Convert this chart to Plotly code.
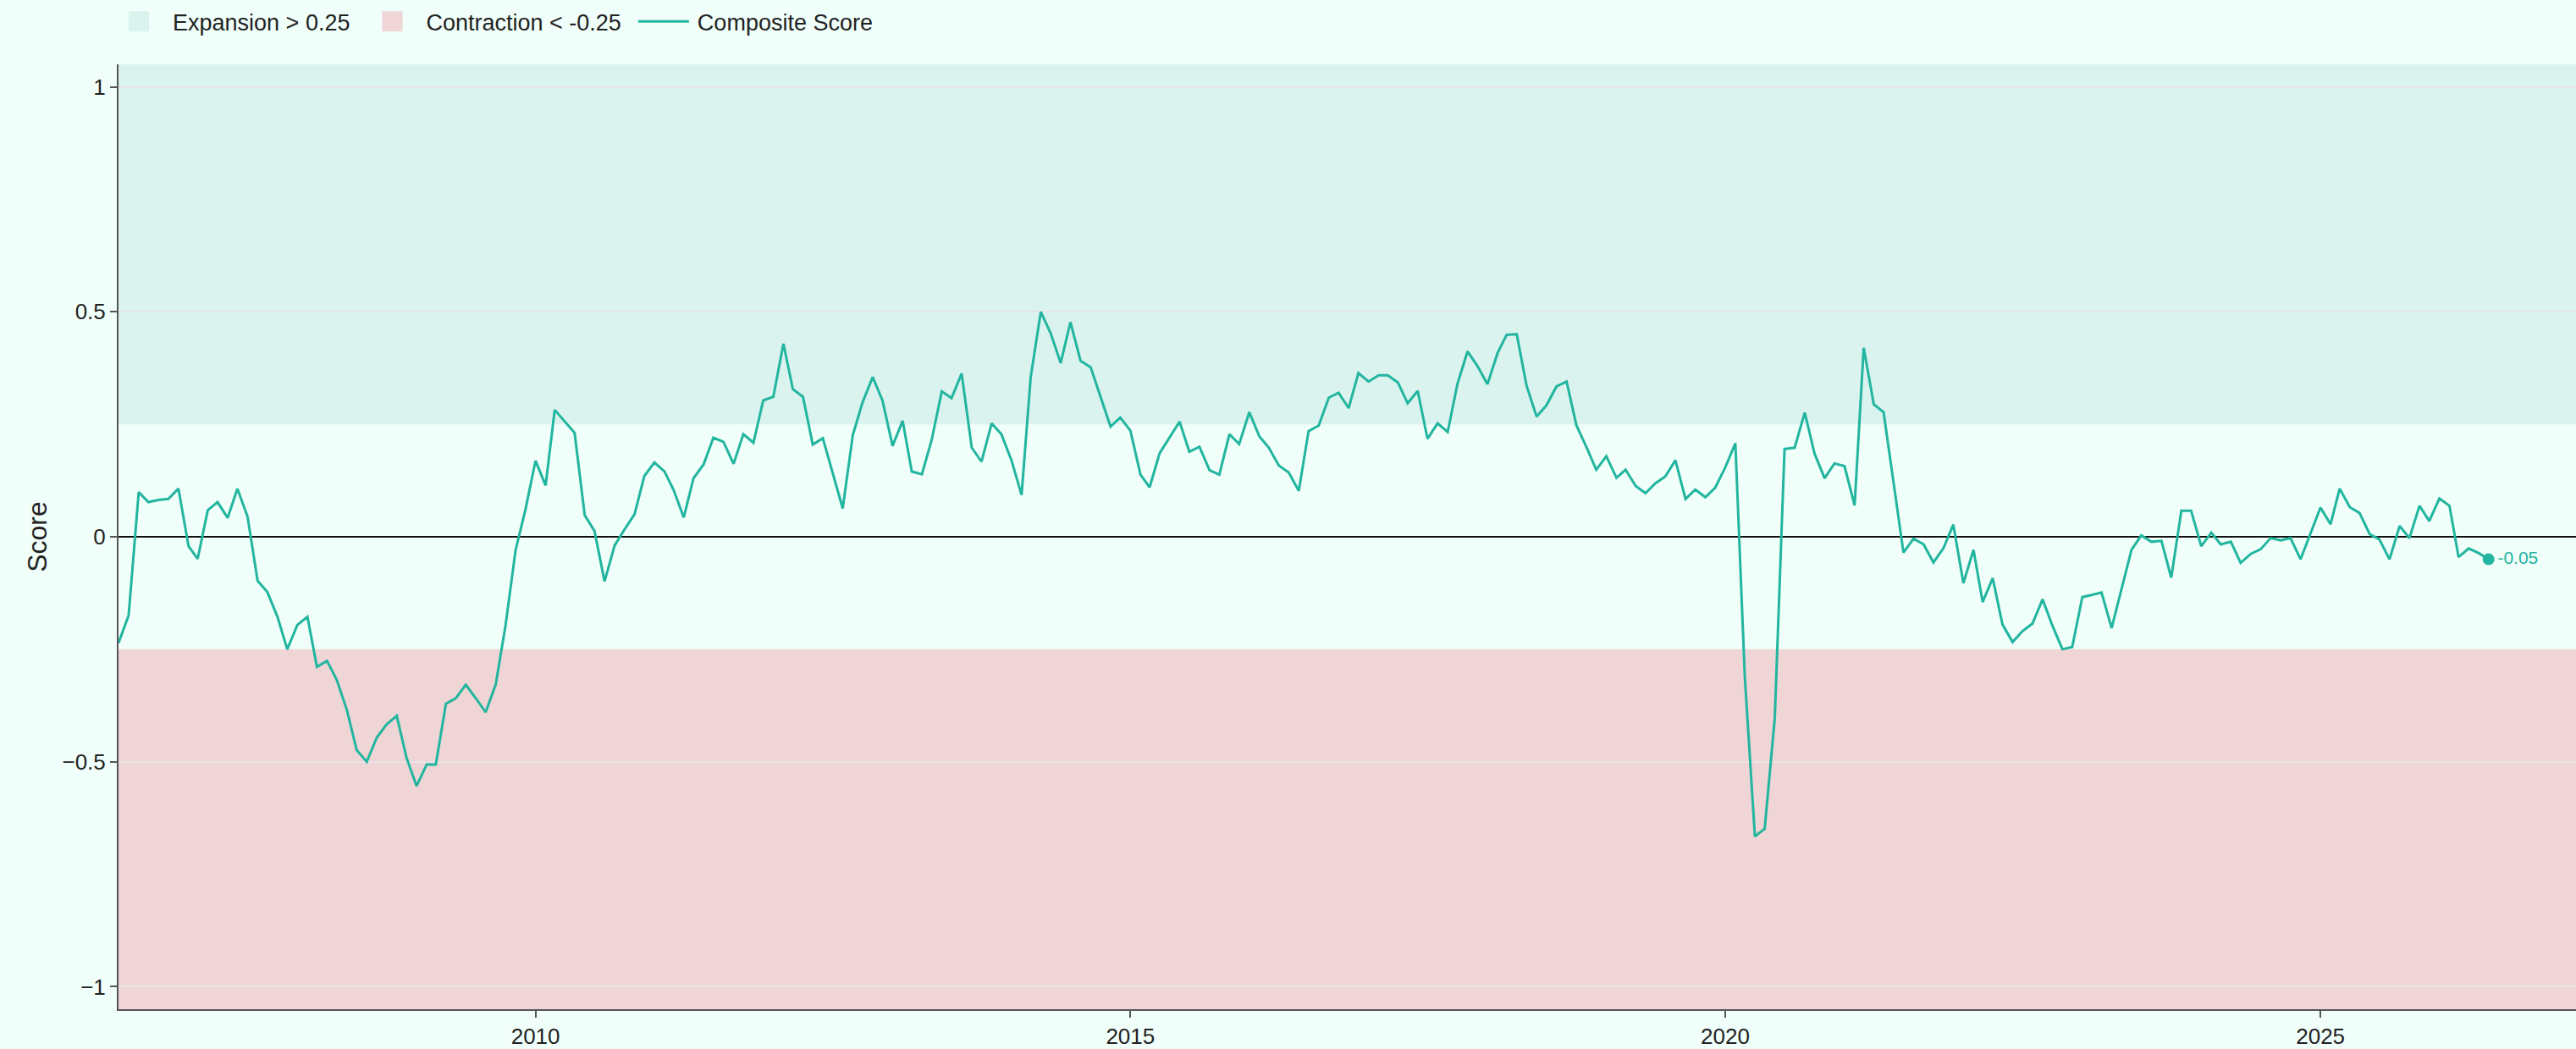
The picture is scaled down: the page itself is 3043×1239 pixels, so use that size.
import pandas as pd
import plotly.graph_objects as go

# ---------------- data ----------------
start_month = "2006-07-01"
n_months = 240
dates = pd.date_range(start_month, periods=n_months, freq="MS")

score = [
    # 2006 (Jul-Dec)
    -0.236, -0.175, 0.099, 0.077, 0.082, 0.084,
    # 2007
    0.107, -0.021, -0.049, 0.059, 0.077, 0.042, 0.107, 0.045, -0.098, -0.123, -0.178, -0.250,
    # 2008
    -0.196, -0.178, -0.289, -0.276, -0.318, -0.385, -0.474, -0.500, -0.446, -0.417, -0.398, -0.491,
    # 2009
    -0.554, -0.506, -0.506, -0.371, -0.359, -0.329, -0.358, -0.390, -0.328, -0.197, -0.029, 0.060,
    # 2010
    0.169, 0.114, 0.282, 0.258, 0.231, 0.048, 0.013, -0.099, -0.019, 0.016, 0.050, 0.135,
    # 2011
    0.165, 0.145, 0.104, 0.043, 0.130, 0.161, 0.220, 0.211, 0.162, 0.228, 0.209, 0.303,
    # 2012
    0.311, 0.429, 0.328, 0.311, 0.205, 0.219, 0.145, 0.063, 0.226, 0.299, 0.355, 0.303,
    # 2013
    0.202, 0.258, 0.145, 0.139, 0.215, 0.323, 0.308, 0.363, 0.198, 0.167, 0.252, 0.228,
    # 2014
    0.170, 0.093, 0.355, 0.500, 0.453, 0.386, 0.477, 0.391, 0.377, 0.311, 0.245, 0.265,
    # 2015
    0.236, 0.138, 0.110, 0.186, 0.220, 0.256, 0.189, 0.200, 0.148, 0.138, 0.228, 0.206,
    # 2016
    0.277, 0.223, 0.198, 0.158, 0.143, 0.102, 0.235, 0.247, 0.309, 0.320, 0.286, 0.364,
    # 2017
    0.345, 0.359, 0.359, 0.343, 0.297, 0.324, 0.218, 0.252, 0.233, 0.340, 0.412, 0.380,
    # 2018
    0.339, 0.408, 0.449, 0.450, 0.336, 0.267, 0.292, 0.334, 0.345, 0.248, 0.199, 0.149,
    # 2019
    0.179, 0.131, 0.149, 0.113, 0.097, 0.119, 0.134, 0.170, 0.084, 0.105, 0.088, 0.109,
    # 2020
    0.154, 0.208, -0.311, -0.666, -0.649, -0.403, 0.195, 0.198, 0.276, 0.185, 0.130, 0.163,
    # 2021
    0.157, 0.070, 0.420, 0.294, 0.277, 0.122, -0.035, -0.004, -0.017, -0.057, -0.025, 0.027,
    # 2022
    -0.103, -0.029, -0.145, -0.092, -0.195, -0.234, -0.210, -0.193, -0.139, -0.197, -0.250, -0.245,
    # 2023
    -0.134, -0.129, -0.124, -0.203, -0.113, -0.029, 0.003, -0.011, -0.009, -0.091, 0.058, 0.058,
    # 2024
    -0.021, 0.009, -0.017, -0.011, -0.058, -0.038, -0.028, -0.003, -0.008, -0.003, -0.050, 0.006,
    # 2025
    0.065, 0.028, 0.107, 0.066, 0.053, 0.006, -0.006, -0.050, 0.024, -0.003, 0.069, 0.035,
    # 2026 (Jan-Jun)
    0.085, 0.069, -0.045, -0.026, -0.036, -0.050,
]

expansion_threshold = 0.25
contraction_threshold = -0.25
band_names = ["Expansion > 0.25", "Contraction < -0.25"]
y_range = [-1.05, 1.05]
x_range = ["2006-07-01", "2027-02-27"]
tick_years = ["2010", "2015", "2020", "2025"]
y_ticks = [-1, -0.5, 0, 0.5, 1]

# ---------------- style (laid out at 1x, shown at 2x) ----------------
BG = "#F0FFFA"
LINE = "#22B59F"
EXP_FILL = "#DBF3EE"
CON_FILL = "#EFD5D6"
FONT = "Liberation Sans, Arial, Helvetica, sans-serif"

fig = go.Figure()

# regime bands
fig.add_shape(type="rect", xref="paper", yref="y", x0=0, x1=1,
              y0=expansion_threshold, y1=y_range[1],
              fillcolor=EXP_FILL, line=dict(width=0), layer="below")
fig.add_shape(type="rect", xref="paper", yref="y", x0=0, x1=1,
              y0=y_range[0], y1=contraction_threshold,
              fillcolor=CON_FILL, line=dict(width=0), layer="below")

# legend entries for the bands (no drawn bars)
for nm, col in zip(band_names, [EXP_FILL, CON_FILL]):
    fig.add_trace(go.Bar(x=[dates[0]], y=[None], name=nm,
                         marker=dict(color=col, line=dict(width=0)),
                         hoverinfo="skip"))

fig.add_trace(go.Scatter(
    x=dates, y=score, mode="lines", name="Composite Score",
    line=dict(color=LINE, width=1.5),
))

fig.add_trace(go.Scatter(
    x=[dates[-1]], y=[score[-1]], mode="markers+text",
    marker=dict(color=LINE, size=7),
    text=[f"{score[-1]:.2f}"], textposition="middle right",
    textfont=dict(color=LINE, size=10.5, family=FONT),
    showlegend=False, hoverinfo="skip",
))

fig.update_layout(
    width=1521.5, height=619.5,
    margin=dict(l=70, r=0, t=38, b=23.5, autoexpand=False),
    paper_bgcolor=BG, plot_bgcolor=BG,
    font=dict(family=FONT, size=13, color="#222"),
    legend=dict(orientation="h", x=-0.0055, xanchor="left", y=1.045, yanchor="middle",
                font=dict(size=13.5, color="#222"), bgcolor="rgba(0,0,0,0)"),
    showlegend=True,
)

fig.update_xaxes(
    range=x_range, showgrid=False, zeroline=False,
    showline=True, linecolor="#555", linewidth=1,
    ticks="outside", ticklen=4, tickcolor="#555", tickwidth=0.5,
    tickvals=[pd.Timestamp(f"{y}-01-01") for y in tick_years], ticktext=tick_years,
    tickfont=dict(size=13, color="#222"),
)
fig.update_yaxes(
    range=y_range, tickvals=y_ticks,
    showgrid=True, gridcolor="#E9E4E6", gridwidth=0.5,
    zeroline=True, zerolinecolor="#111", zerolinewidth=1,
    showline=True, linecolor="#555", linewidth=1,
    ticks="outside", ticklen=4, tickcolor="#555", tickwidth=0.5,
    tickfont=dict(size=13, color="#222"),
    title=dict(text="Score", font=dict(size=16, color="#222"), standoff=4),
)

post = (
    "document.documentElement.style.margin='0';"
    "document.body.style.margin='0';"
    "document.documentElement.style.overflow='hidden';"
    "document.body.style.overflow='hidden';"
    "document.body.style.background='" + BG + "';"
    "var gd=document.getElementById('{plot_id}');"
    "gd.style.transform='scale(2)';"
    "gd.style.transformOrigin='0 0';"
)

fig.write_html("out.html", post_script=post, config={"displayModeBar": False})
